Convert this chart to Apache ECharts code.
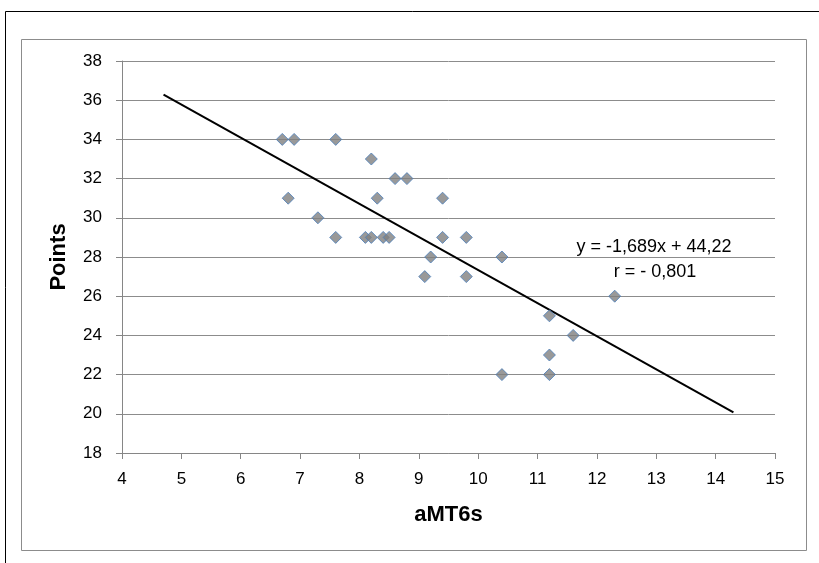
<!DOCTYPE html>
<html>
<head>
<meta charset="utf-8">
<script src="https://cdn.jsdelivr.net/npm/echarts@6/dist/echarts.min.js"></script>
<style>
  html, body { margin: 0; padding: 0; background: #fff; }
  #main { width: 819px; height: 563px; }
</style>
</head>
<body>
<div id="main"></div>
<script>
var xValues = [6.7, 6.9, 7.6, 8.2, 8.6, 8.8, 6.8, 8.3, 9.4, 7.3, 7.6, 8.1, 8.2, 8.4, 8.5, 9.4, 9.8, 9.2, 10.4, 9.1, 9.8, 12.3, 11.2, 11.6, 11.2, 10.4, 11.2];
var yValues = [34, 34, 34, 33, 32, 32, 31, 31, 31, 30, 29, 29, 29, 29, 29, 29, 29, 28, 28, 27, 27, 26, 25, 24, 23, 22, 22];
var trendX = [4.7, 14.3];
var slope = -1.689;
var intercept = 44.22;
var equationText = 'y = -1,689x + 44,22';
var rText = 'r = - 0,801';

var myChart = echarts.init(document.getElementById('main'));

var points = xValues.map(function (x, i) { return [x, yValues[i]]; });
var trend = trendX.map(function (x) { return [x, slope * x + intercept]; });

var font = 'Liberation Sans';

var option = {
  animation: false,
  backgroundColor: '#fff',
  grid: { left: 122, right: 44, top: 61, bottom: 110 },
  xAxis: {
    type: 'value',
    min: 4,
    max: 15,
    interval: 1,
    name: 'aMT6s',
    nameLocation: 'middle',
    nameGap: 51,
    nameTextStyle: { fontFamily: font, fontWeight: 'bold', fontSize: 22, color: '#000' },
    axisLine: { lineStyle: { color: '#868686' } },
    axisTick: { show: true, length: 6, lineStyle: { color: '#868686' } },
    axisLabel: { fontFamily: font, fontSize: 17, color: '#000', margin: 18 },
    splitLine: { show: false }
  },
  yAxis: {
    type: 'value',
    min: 18,
    max: 38,
    interval: 2,
    name: 'Points',
    nameLocation: 'middle',
    nameGap: 52,
    nameTextStyle: { fontFamily: font, fontWeight: 'bold', fontSize: 22, color: '#000' },
    axisLine: { show: true, lineStyle: { color: '#868686' } },
    axisTick: { show: true, length: 6, lineStyle: { color: '#868686' } },
    axisLabel: { fontFamily: font, fontSize: 17, color: '#000', margin: 20 },
    splitLine: { show: true, lineStyle: { color: '#8c8c8c', width: 1 } }
  },
  series: [
    {
      type: 'line',
      data: trend,
      symbol: 'none',
      lineStyle: { color: '#000', width: 2 },
      z: 3
    },
    {
      type: 'scatter',
      data: points,
      symbol: 'diamond',
      symbolSize: 12,
      itemStyle: { color: '#7f7f7f', borderColor: '#4a7ebb', borderWidth: 1 },
      z: 4
    }
  ],
  graphic: [
    { type: 'rect', shape: { x: 5.5, y: 11.5, width: 830, height: 560 }, style: { fill: 'none', stroke: '#000', lineWidth: 1 }, silent: true },
    { type: 'rect', shape: { x: 21.5, y: 39.5, width: 785, height: 511 }, style: { fill: 'none', stroke: '#8c8c8c', lineWidth: 1 }, silent: true },
    { type: 'text', x: 654, y: 247, style: { text: equationText, font: '18px ' + font, fill: '#000', textAlign: 'center', textVerticalAlign: 'middle' } },
    { type: 'text', x: 655, y: 272, style: { text: rText, font: '18px ' + font, fill: '#000', textAlign: 'center', textVerticalAlign: 'middle' } }
  ]
};

myChart.setOption(option);
</script>
</body>
</html>
